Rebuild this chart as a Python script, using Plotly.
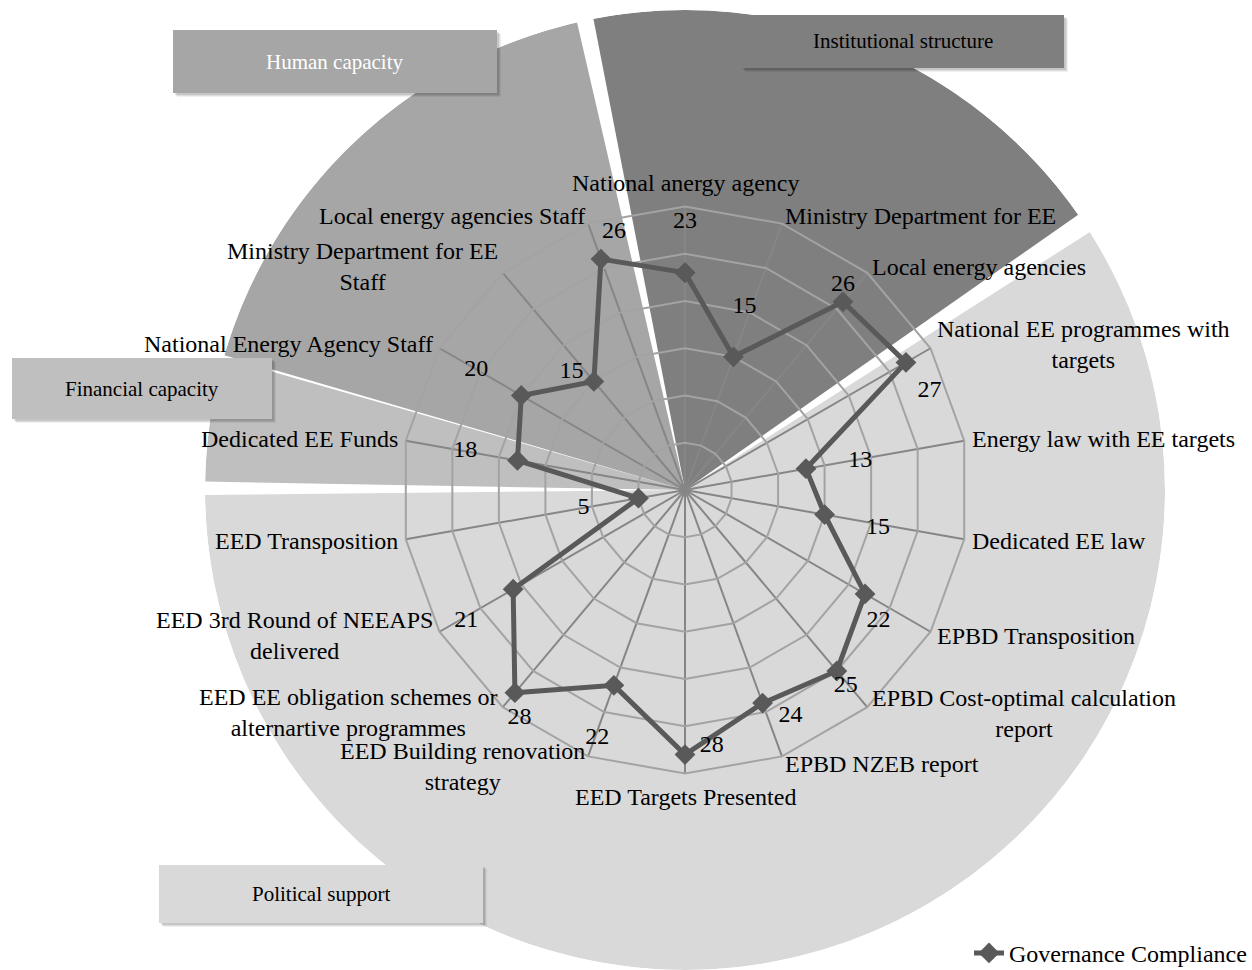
import math
import plotly.graph_objects as go

# ---------------- data ----------------
categories = [
    "National anergy agency", "Ministry Department for EE", "Local energy agencies",
    "National EE programmes with<br>targets", "Energy law with EE targets", "Dedicated EE law",
    "EPBD Transposition", "EPBD Cost-optimal calculation<br>report", "EPBD NZEB report",
    "EED Targets Presented", "EED Building renovation<br>strategy",
    "EED EE obligation schemes or<br>alternartive programmes",
    "EED 3rd Round of NEEAPS<br>delivered", "EED Transposition", "Dedicated EE Funds",
    "National Energy Agency Staff", "Ministry Department for EE<br>Staff",
    "Local energy agencies Staff",
]
compliance = [23, 15, 26, 27, 13, 15, 22, 25, 24, 28, 22, 28, 21, 5, 18, 20, 15, 26]
series_name = "Governance Compliance"

groups = ["Institutional structure", "Political support", "Financial capacity", "Human capacity"]
group_start_deg = [349.0, 57.5, 271.0, 286.3]
group_end_deg = [415.0, 269.4, 286.0, 347.0]

# ---------------- styles ----------------
W, H = 1252, 970
FONT = "Liberation Serif, Times New Roman, serif"
group_colors = ["#7f7f7f", "#d9d9d9", "#bfbfbf", "#a6a6a6"]
group_text_colors = ["black", "black", "black", "white"]
# label boxes (pixel rectangles: x0, y0, x1, y1)
group_boxes = [(741, 15, 1064, 68), (159, 865, 483, 923), (12, 358, 272, 419), (173, 30, 497, 93)]
line_color = "#595959"
spoke_color = "#868686"
ring_color = "#a3a3a3"
# placement of value labels relative to their points
label_dr = [5.4, 5.4, 1.4, 0.9, 5.8, 5.8, 2.7, 1.8, 2.4, -0.8, 5.8, 1.8, 6.0, 5.9, 5.6, 5.5, 2.3, 2.3]
label_dth = [0, -2, -2.4, 8, 0.6, 1, 4, 0.6, -5, -6, -0.5, -4, -1, 0, 0, 0, -4, 4.6]
CAT_PAD = 8  # px beyond the outer ring
cat_yshift = [0, 0, 0, 0, 0, 0, 0, 0, 0, 0, -3, 1, 0, 0, 0, 0, 0, 0]

CX, CY = 685, 490
R_BG = 480
R_RADAR = 283.5
R_MAX = 30
R_MAX_TXT = 40


def px(x):
    return x / W


def py(y):
    return 1 - y / H


n = len(categories)
step = 360.0 / n
cat_theta = [i * step for i in range(n)]

fig = go.Figure()

# background sectors
centers = [(s + e) / 2.0 for s, e in zip(group_start_deg, group_end_deg)]
widths = [e - s for s, e in zip(group_start_deg, group_end_deg)]
fig.add_trace(go.Barpolar(
    r=[1] * len(groups), theta=centers, width=widths,
    marker=dict(color=group_colors, line=dict(width=0)),
    subplot="polar", showlegend=False, hoverinfo="skip", name="groups",
))

# radar line
fig.add_trace(go.Scatterpolar(
    r=compliance + compliance[:1], theta=categories + categories[:1],
    mode="lines+markers", name=series_name,
    line=dict(color=line_color, width=5),
    marker=dict(symbol="diamond", size=16, color=line_color),
    subplot="polar2", cliponaxis=False,
))

# value labels
fig.add_trace(go.Scatterpolar(
    r=[v + d for v, d in zip(compliance, label_dr)],
    theta=[t + d for t, d in zip(cat_theta, label_dth)],
    text=[str(v) for v in compliance], mode="text",
    textfont=dict(family=FONT, size=24, color="black"),
    subplot="polar3", showlegend=False, hoverinfo="skip", cliponaxis=False,
))

R_TXT = R_RADAR * R_MAX_TXT / R_MAX
dom_bg = dict(x=[px(CX - R_BG), px(CX + R_BG)], y=[py(CY + R_BG), py(CY - R_BG)])
dom_rd = dict(x=[px(CX - R_RADAR), px(CX + R_RADAR)], y=[py(CY + R_RADAR), py(CY - R_RADAR)])
dom_tx = dict(x=[px(CX - R_TXT), px(CX + R_TXT)], y=[py(CY + R_TXT), py(CY - R_TXT)])

shapes = []
annotations = []
for g, col, tcol, (x0, y0, x1, y1) in zip(groups, group_colors, group_text_colors, group_boxes):
    for k, a in [(4, 0.06), (3, 0.08), (2, 0.10)]:
        shapes.append(dict(type="rect", xref="paper", yref="paper",
                           x0=px(x0 + k), x1=px(x1 + k), y0=py(y1 + k), y1=py(y0 + k),
                           fillcolor=f"rgba(0,0,0,{a})", line=dict(width=0)))
    shapes.append(dict(type="rect", xref="paper", yref="paper",
                       x0=px(x0), x1=px(x1), y0=py(y1), y1=py(y0),
                       fillcolor=col, line=dict(width=0)))
    annotations.append(dict(text=g, x=px((x0 + x1) / 2), y=py((y0 + y1) / 2),
                            xref="paper", yref="paper", showarrow=False,
                            xanchor="center", yanchor="middle",
                            font=dict(family=FONT, size=21, color=tcol)))

# category labels just outside the outer ring of the radar
for cat, t, ys in zip(categories, cat_theta, cat_yshift):
    a = math.radians(t)
    rr = R_RADAR + CAT_PAD
    lx = CX + rr * math.sin(a)
    ly = CY - rr * math.cos(a)
    if t == 0:
        xa, ya, xs = "center", "bottom", 0
    elif t == 180:
        xa, ya, xs = "center", "top", 0
    elif t < 180:
        xa, ya, xs = "left", "middle", -2
    else:
        xa, ya, xs = "right", "middle", 2
    annotations.append(dict(text=cat, x=px(lx), y=py(ly), xref="paper", yref="paper",
                            showarrow=False, xanchor=xa, yanchor=ya, xshift=xs, yshift=ys,
                            align="center",
                            font=dict(family=FONT, size=24, color="black")))

fig.update_layout(
    width=W, height=H, autosize=False,
    margin=dict(l=0, r=0, t=0, b=0, autoexpand=False),
    paper_bgcolor="white", plot_bgcolor="white",
    font=dict(family=FONT, size=24, color="black"),
    polar=dict(domain=dom_bg, bgcolor="rgba(0,0,0,0)",
               radialaxis=dict(visible=False, range=[0, 1]),
               angularaxis=dict(visible=False, direction="clockwise", rotation=90)),
    polar2=dict(domain=dom_rd, bgcolor="rgba(0,0,0,0)", gridshape="linear",
                radialaxis=dict(range=[0, R_MAX], dtick=5, showticklabels=False, ticks="",
                                showline=False, gridcolor=ring_color, gridwidth=2),
                angularaxis=dict(direction="clockwise", rotation=90, ticks="",
                                 showticklabels=False,
                                 showline=True, linecolor=ring_color, linewidth=2,
                                 gridcolor=spoke_color, gridwidth=1.5)),
    polar3=dict(domain=dom_tx, bgcolor="rgba(0,0,0,0)",
                radialaxis=dict(visible=False, range=[0, R_MAX_TXT]),
                angularaxis=dict(visible=False, direction="clockwise", rotation=90)),
    shapes=shapes, annotations=annotations,
    legend=dict(x=1, y=-0.006, xanchor="right", yanchor="bottom",
                bgcolor="rgba(0,0,0,0)", font=dict(family=FONT, size=24, color="black")),
)

fig.write_html("out.html", config={"displayModeBar": False},
               post_script="document.body.style.margin='0';")
